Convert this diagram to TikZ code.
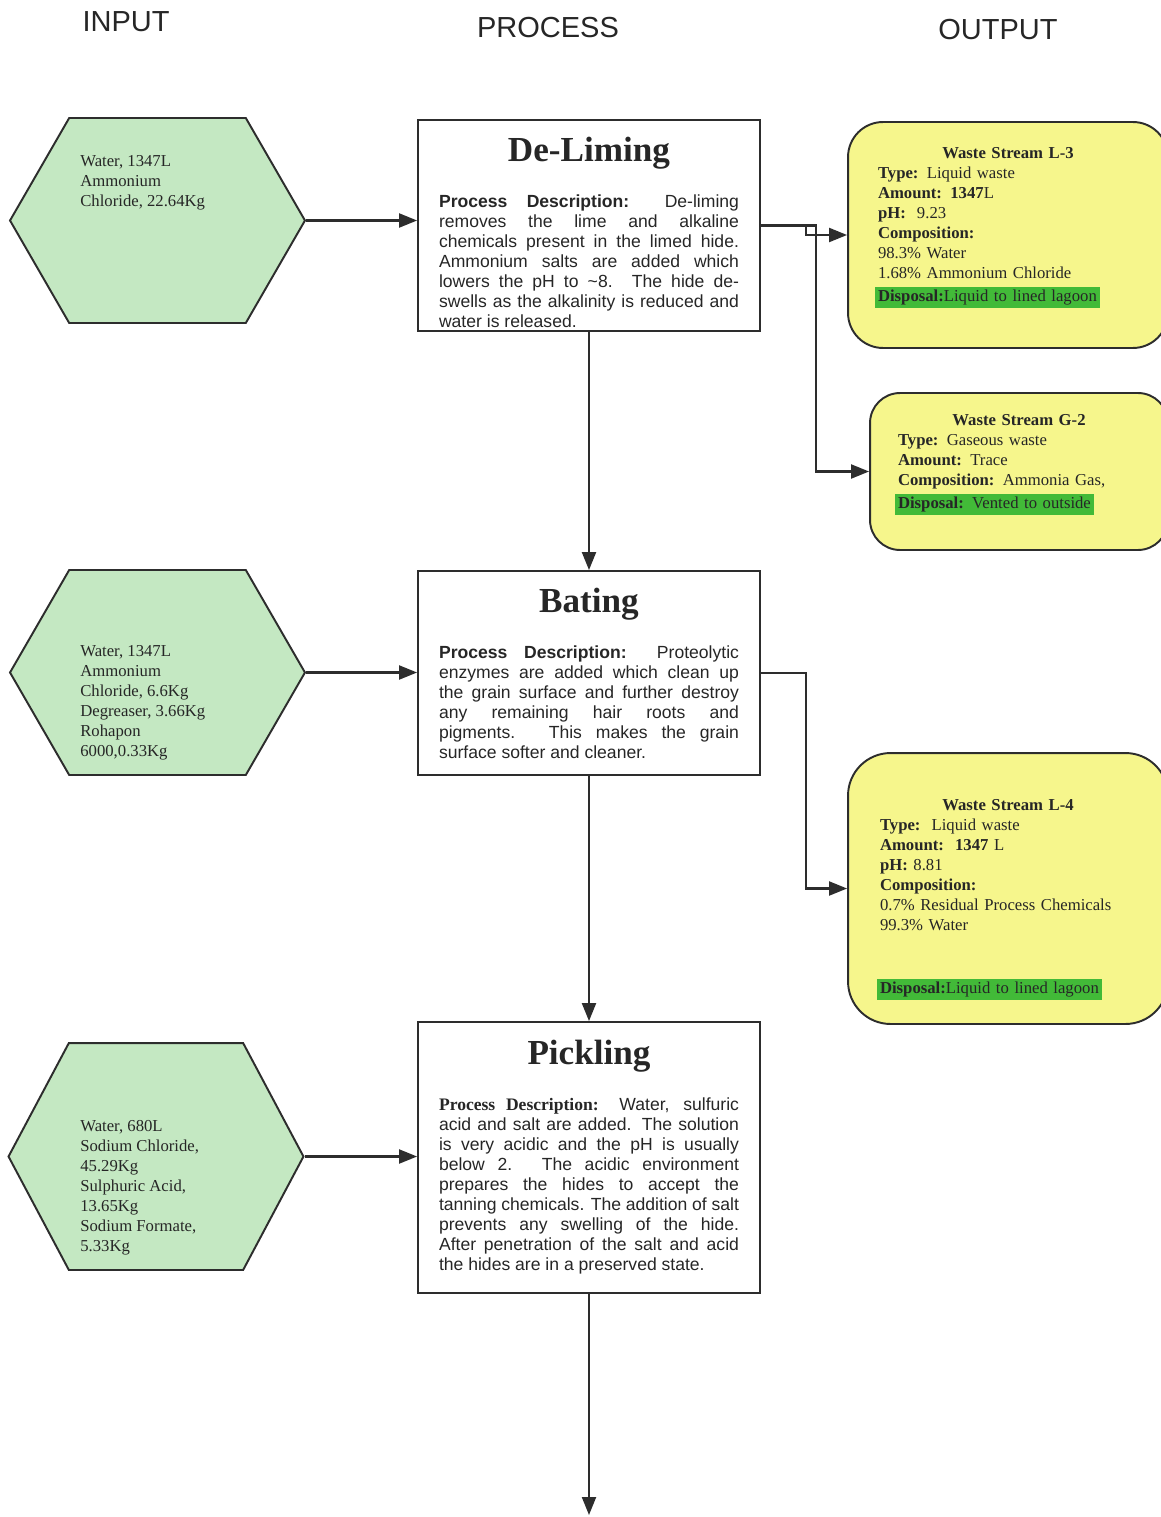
\documentclass[tikz,border=0pt]{standalone}
\usepackage{fontspec}
\setmainfont{Liberation Serif}
\setsansfont{Liberation Sans}
\usetikzlibrary{arrows.meta,shapes.symbols}
\definecolor{hexgreen}{RGB}{196,232,194}
\definecolor{wasteyellow}{RGB}{246,246,140}
\definecolor{dispgreen}{RGB}{66,186,56}
\definecolor{linegray}{RGB}{45,45,45}
\newcommand{\disposal}[1]{\hspace*{-1.5pt}{\setlength{\fboxsep}{1.5pt}\colorbox{dispgreen}{#1}}}
\newcommand{\ptitle}[2][0pt]{{\centering\rmfamily\bfseries\fontsize{20}{24}\selectfont\rule{0pt}{#1}#2\par}\vspace{13.5pt}}

\begin{document}
\begin{tikzpicture}[x=0.02cm,y=-0.02cm]
\fill[white] (0,0) rectangle (1160,1517);
\useasboundingbox (0,0) rectangle (1160,1517);
\tikzstyle{every node}=[inner sep=0pt];
\tikzstyle{head}=[font=\sffamily\fontsize{16.5}{18}\selectfont,text=black!85];
\tikzstyle{inhex}=[shape=signal,signal to=east and west,signal pointer angle=120,draw=linegray,line width=1.1pt,fill=hexgreen,minimum width=5.9cm,minimum height=4.1cm];
\tikzstyle{intext}=[anchor=north west,align=left,font=\fontsize{9.5}{11.4}\selectfont,text=black!85];
\tikzstyle{procbox}=[draw=linegray,line width=1.1pt,fill=white,text width=6cm,inner xsep=0.42cm,align=justify,font=\sffamily\fontsize{10}{11.4}\selectfont,text=black!85];
\tikzstyle{wastebox}=[draw=linegray,line width=1.1pt,fill=wasteyellow,rounded corners=0.7cm,align=left,font=\fontsize{9.5}{11.4}\selectfont,text=black!85];
\tikzstyle{flow}=[draw=linegray,line width=1.2pt,-{Triangle[length=0.36cm,width=0.28cm]}];
\node[head] (input) at (126,22) {INPUT};
\node[head] (process) at (548,28) {PROCESS};
\node[head] (output) at (998,30) {OUTPUT};
\node[inhex] (hex1) at (157.5,220.5) {};
\node[inhex] (hex2) at (157.5,672.5) {};
\node[inhex,minimum height=4.54cm,signal pointer angle=124] (hex3) at (156,1156.5) {};
\node[intext] (in1) at (80,155) {Water, 1347L\\Ammonium\\Chloride, 22.64Kg};
\node[intext] (in2) at (80,645) {Water, 1347L\\Ammonium\\Chloride, 6.6Kg\\Degreaser, 3.66Kg\\Rohapon\\6000,0.33Kg};
\node[intext] (in3) at (80,1120) {Water, 680L\\Sodium Chloride,\\45.29Kg\\Sulphuric Acid,\\13.65Kg\\Sodium Formate,\\5.33Kg};
\node[procbox,minimum height=4.22cm] (deliming) at (589,225.5) {\ptitle[22pt]{De-Liming}\textbf{Process Description:} De-liming\linebreak removes the lime and alkaline\linebreak chemicals present in the limed hide.\linebreak Ammonium salts are added which\linebreak lowers the pH to \textasciitilde8. The hide de-\linebreak swells as the alkalinity is reduced and\linebreak water is released.};
\node[procbox,minimum height=4.08cm] (bating) at (589,673) {\ptitle{Bating}\textbf{Process Description:} Proteolytic\linebreak enzymes are added which clean up\linebreak the grain surface and further destroy\linebreak any remaining hair roots and\linebreak pigments. This makes the grain\linebreak surface softer and cleaner.};
\node[procbox,minimum height=5.42cm] (pickling) at (589,1157.5) {\ptitle{Pickling}{\rmfamily\bfseries Process Description:} Water, sulfuric\linebreak acid and salt are added. The solution\linebreak is very acidic and the pH is usually\linebreak below 2. The acidic environment\linebreak prepares the hides to accept the\linebreak tanning chemicals. The addition of salt\linebreak prevents any swelling of the hide.\linebreak After penetration of the salt and acid\linebreak the hides are in a preserved state.};
\node[wastebox,minimum width=6.4cm,minimum height=4.52cm,text width=5.2cm] (l3) at (1008,235) {{\centering\bfseries Waste Stream L-3\par}\textbf{Type:} Liquid waste\\\textbf{Amount: 1347}L\\\textbf{pH:}\ \ 9.23\\\textbf{Composition:}\\98.3\% Water\\1.68\% Ammonium Chloride\\[0.06cm]\disposal{\textbf{Disposal:}Liquid to lined lagoon}\par\vspace{0.3cm}};
\node[wastebox,minimum width=5.96cm,minimum height=3.14cm,text width=4.84cm,rounded corners=0.6cm] (g2) at (1019,471.5) {{\centering\bfseries Waste Stream G-2\par}\textbf{Type:} Gaseous waste\\\textbf{Amount:} Trace\\\textbf{Composition:} Ammonia Gas,\\[0.06cm]\disposal{\textbf{Disposal:} Vented to outside}\par\vspace{0.28cm}};
\node[wastebox,minimum width=6.4cm,minimum height=5.42cm,text width=5.12cm,rounded corners=0.85cm] (l4) at (1008,888.5) {{\centering\bfseries\rule{0pt}{0.66cm}Waste Stream L-4\par}\textbf{Type:}\ \ Liquid waste\\\textbf{Amount:\ \ 1347} L\\\textbf{pH:} 8.81\\\textbf{Composition:}\\0.7\% Residual Process Chemicals\\99.3\% Water\\[0.86cm]\disposal{\textbf{Disposal:}Liquid to lined lagoon}};
\coordinate (out) at (589,1515);
\draw[flow] (hex1.east) -- (hex1.east -| deliming.west);
\draw[flow] (hex2.east) -- (hex2.east -| bating.west);
\draw[flow] (hex3.east) -- (hex3.east -| pickling.west);
\draw[flow] (deliming.south) -- (bating.north);
\draw[flow] (bating.south) -- (pickling.north);
\draw[flow] (pickling.south) -- (out);
\draw[flow] (deliming.east) -- ++(45,0) |- (l3.west);
\draw[flow] (deliming.east) -- ++(55,0) |- (g2.west);
\draw[flow] (bating.east) -- ++(45,0) |- (l4.west);
\end{tikzpicture}
\end{document}
